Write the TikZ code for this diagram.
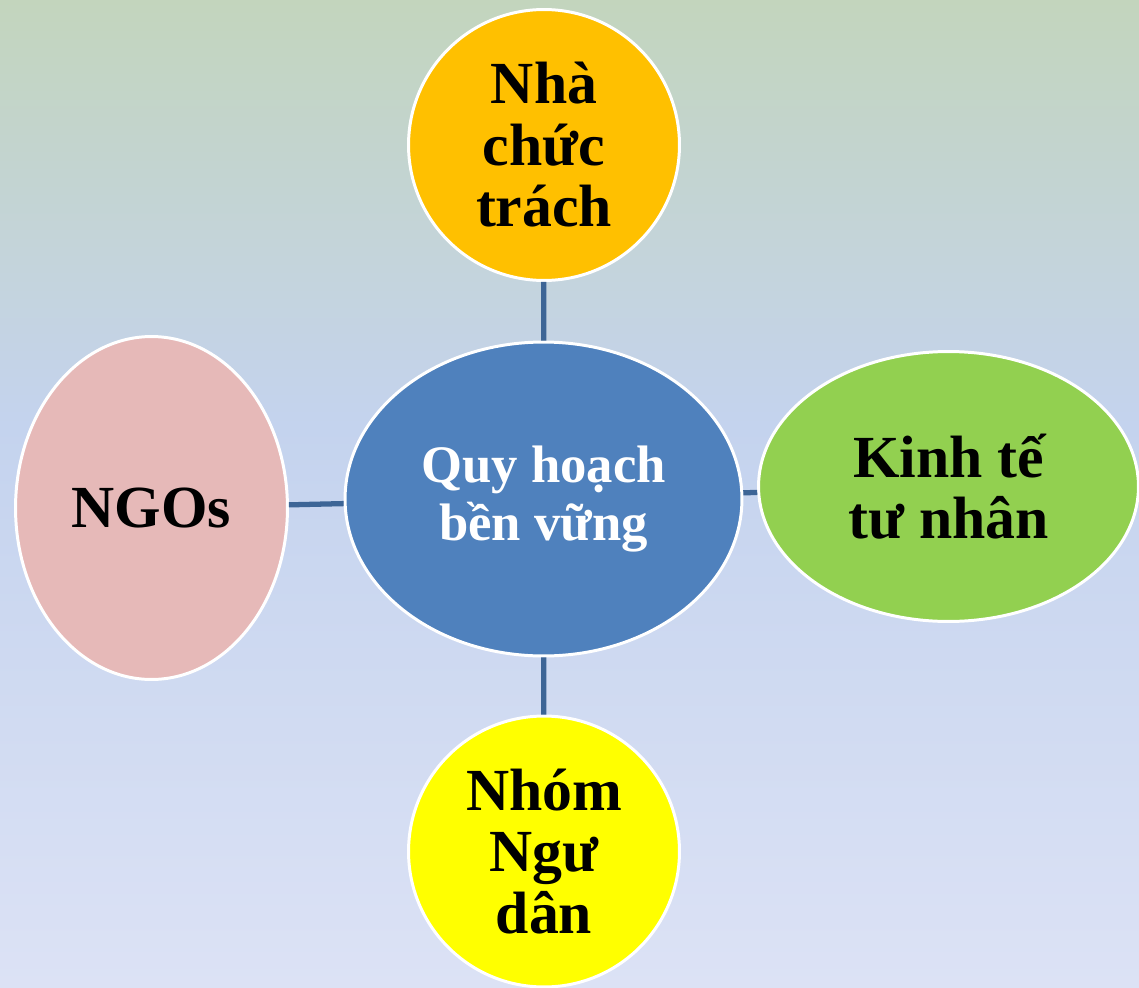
\documentclass[tikz,border=0pt]{standalone}
\usepackage{fontspec}
\setmainfont{Liberation Serif}
\usetikzlibrary{shapes.geometric}
\definecolor{bgtop}{HTML}{C3D5BD}
\definecolor{bgmid}{HTML}{C4D3EE}
\definecolor{bgbot}{HTML}{DCE2F5}
\definecolor{linkblue}{HTML}{3D6596}
\definecolor{hubblue}{HTML}{4F81BD}
\definecolor{orangefill}{HTML}{FFC000}
\definecolor{greenfill}{HTML}{92D050}
\definecolor{pinkfill}{HTML}{E6B9B8}
\definecolor{yellowfill}{HTML}{FFFF00}
% green at the top, blue a little above the middle, pale lavender at the bottom
\pgfdeclareverticalshading{backdrop}{100bp}{color(0bp)=(bgbot); color(25bp)=(bgbot);
  color(53.5bp)=(bgmid); color(75bp)=(bgtop); color(100bp)=(bgtop)}
\begin{document}
\begin{tikzpicture}[x=0.02cm,y=-0.02cm,
  bubble/.style={ellipse, draw=white, line width=1.7pt, inner sep=0pt,
    align=center, font=\bfseries\fontsize{34}{35}\selectfont},
  link/.style={draw=linkblue, line width=3pt}]
% background gradient
\shade[shading=backdrop] (0,0) rectangle (1139,987);
\useasboundingbox (0,0) rectangle (1139,987);
% central hub and the four partners
\node[bubble, fill=hubblue, text=white, minimum width=7.94cm, minimum height=6.28cm,
  font=\bfseries\fontsize{30}{32.5}\selectfont] (hub) at (543.5,499) {Quy hoạch\\bền vững};
\node[bubble, fill=orangefill, minimum width=5.42cm, minimum height=5.42cm] (auth) at (544,145) {Nhà\\chức\\trách};
\node[bubble, fill=greenfill, minimum width=7.6cm, minimum height=5.4cm] (priv) at (948.5,486.5) {Kinh tế\\tư nhân};
\node[bubble, fill=pinkfill, minimum width=5.44cm, minimum height=6.86cm] (ngo) at (151.5,508) {NGOs};
\node[bubble, fill=yellowfill, minimum width=5.42cm, minimum height=5.42cm] (fish) at (544,851.5) {Nhóm\\Ngư\\dân};
% connectors
\draw[link] (auth) -- (hub);
\draw[link] (hub) -- (fish);
\draw[link] (ngo) -- (hub);
\draw[link] (hub) -- (priv);
\end{tikzpicture}
\end{document}
